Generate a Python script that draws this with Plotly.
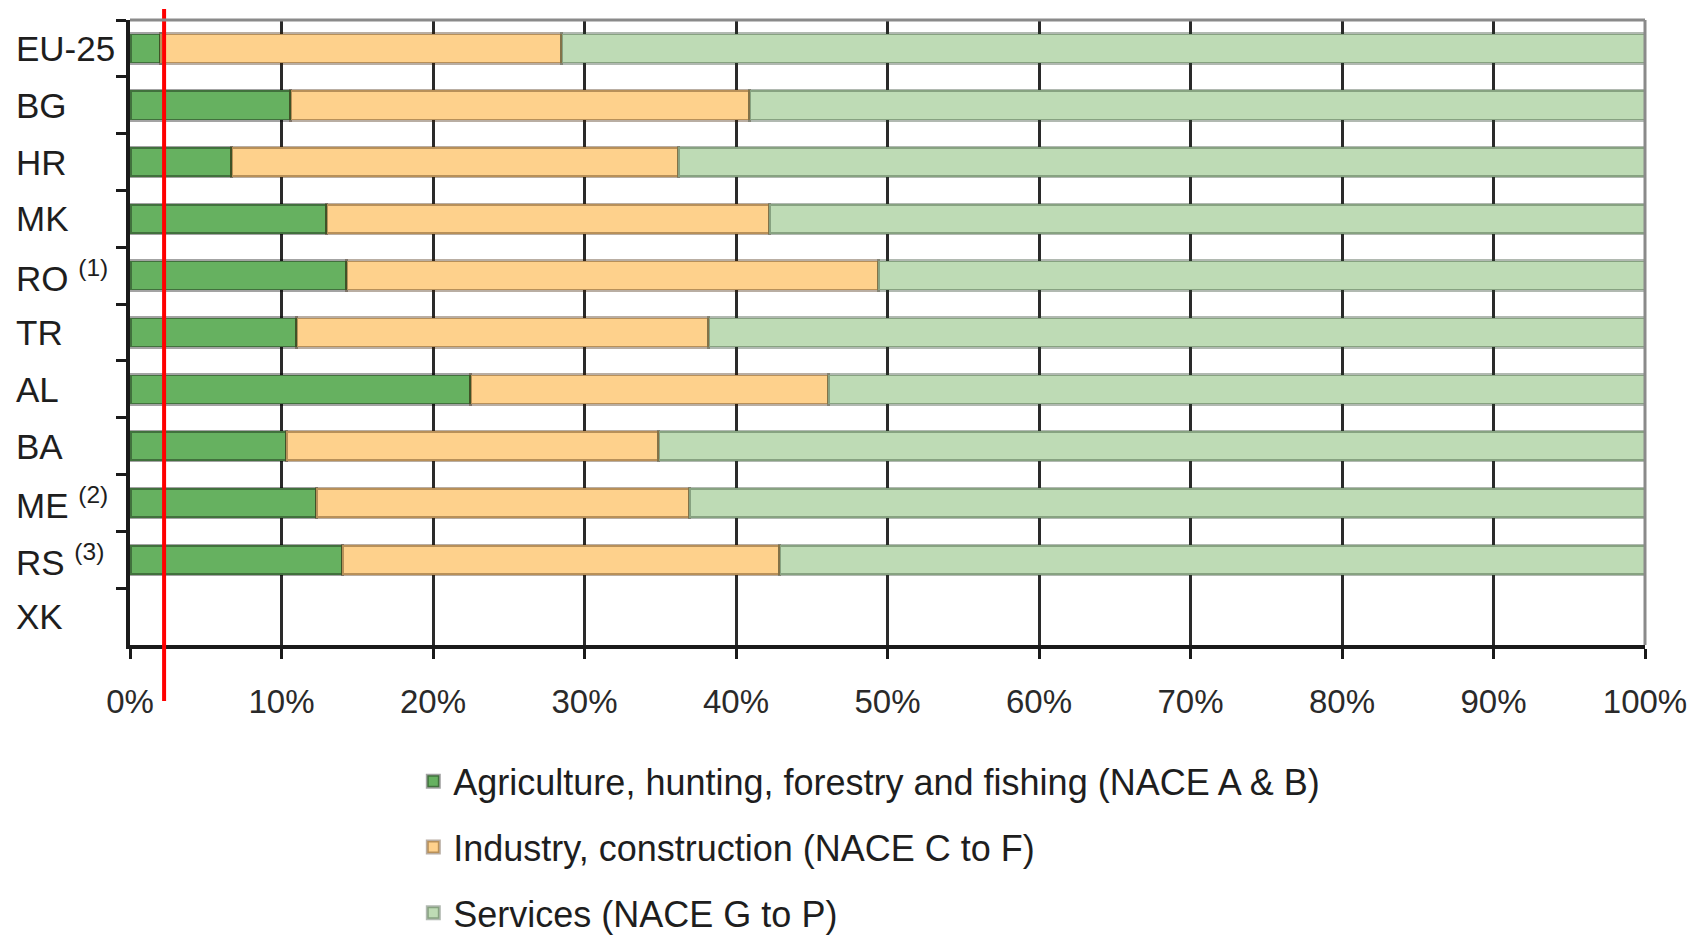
import plotly.graph_objects as go

# Share of gross value added by branch (%), stacked to 100
countries = ["EU-25", "BG", "HR", "MK", "RO", "TR", "AL", "BA", "ME", "RS", "XK"]
country_labels = ["EU-25", "BG", "HR", "MK", "RO <sup>(1)</sup>", "TR", "AL", "BA",
                  "ME <sup>(2)</sup>", "RS <sup>(3)</sup>", "XK"]
agriculture = [2.0, 10.6, 6.7, 13.0, 14.3, 11.0, 22.5, 10.3, 12.3, 14.0, None]
industry = [26.5, 30.3, 29.5, 29.2, 35.1, 27.2, 23.6, 24.6, 24.6, 28.9, None]
services = [71.5, 59.1, 63.8, 57.8, 50.6, 61.8, 53.9, 65.1, 63.1, 57.1, None]
reference_share = 2.25
x_tick_values = [0, 10, 20, 30, 40, 50, 60, 70, 80, 90, 100]
x_tick_labels = ["0%", "10%", "20%", "30%", "40%", "50%", "60%", "70%", "80%", "90%", "100%"]

series_names = [
    "Agriculture, hunting, forestry and fishing (NACE A & B)",
    "Industry, construction (NACE C to F)",
    "Services (NACE G to P)",
]
fill_colors = ["#66b160", "#fed18c", "#bedbb5"]
edge_colors = ["rgba(0,0,0,0.36)", "rgba(60,30,0,0.36)", "rgba(40,60,40,0.36)"]

FONT = "Liberation Sans, Arial, sans-serif"

fig = go.Figure()
for i, (name, vals) in enumerate(zip(series_names, [agriculture, industry, services])):
    fig.add_trace(go.Bar(
        y=countries, x=vals, name=name, orientation="h",
        marker=dict(color=fill_colors[i], line=dict(color=edge_colors[i], width=3)),
        legendgroup=f"g{i}",
    ))

# Country labels, left aligned outside the plot
for cat, lab in zip(countries, country_labels):
    fig.add_annotation(
        x=-0.0765, xref="paper", y=cat, yref="y", text=lab, showarrow=False,
        xanchor="left", yanchor="middle",
        font=dict(family=FONT, size=35, color="#1e1e1e"),
    )

# Reference marker line
fig.add_shape(type="line", xref="x", yref="paper", x0=reference_share, x1=reference_share,
              y0=-0.0896, y1=1.0176, line=dict(color="#ff0000", width=4), layer="above")
# Top and right frame of the plot area
fig.add_shape(type="line", xref="paper", yref="paper", x0=0, x1=1, y0=1, y1=1,
              line=dict(color="#8a8a8a", width=3), layer="above")
fig.add_shape(type="line", xref="paper", yref="paper", x0=1, x1=1, y0=0, y1=1,
              line=dict(color="#8a8a8a", width=3), layer="above")

fig.update_layout(
    width=1702, height=936,
    margin=dict(l=130, r=57, t=20, b=291, autoexpand=False),
    paper_bgcolor="white", plot_bgcolor="white",
    barmode="stack", bargap=0.48,
    showlegend=True,
    legend=dict(
        x=0.187, y=-0.170, xanchor="left", yanchor="top",
        traceorder="grouped", tracegroupgap=16,
        font=dict(family=FONT, size=36, color="#1e1e1e"),
        bgcolor="rgba(0,0,0,0)",
    ),
    xaxis=dict(
        range=[0, 100], tickmode="array", tickvals=x_tick_values, ticktext=x_tick_labels,
        showgrid=True, gridcolor="#2a2a2a", gridwidth=2.5,
        showline=True, linecolor="#1a1a1a", linewidth=3.5,
        ticks="outside", ticklen=10, tickwidth=3, tickcolor="#1a1a1a",
        ticklabelstandoff=15,
        tickfont=dict(family=FONT, size=33, color="#2a2a2a"),
        zeroline=False, fixedrange=True,
    ),
    yaxis=dict(
        categoryorder="array", categoryarray=countries, autorange="reversed",
        showticklabels=False, showgrid=False,
        showline=True, linecolor="#1a1a1a", linewidth=3.5,
        ticks="outside", tickson="boundaries", ticklen=10, tickwidth=3, tickcolor="#1a1a1a",
        fixedrange=True,
    ),
)

fig.write_html("out.html")
